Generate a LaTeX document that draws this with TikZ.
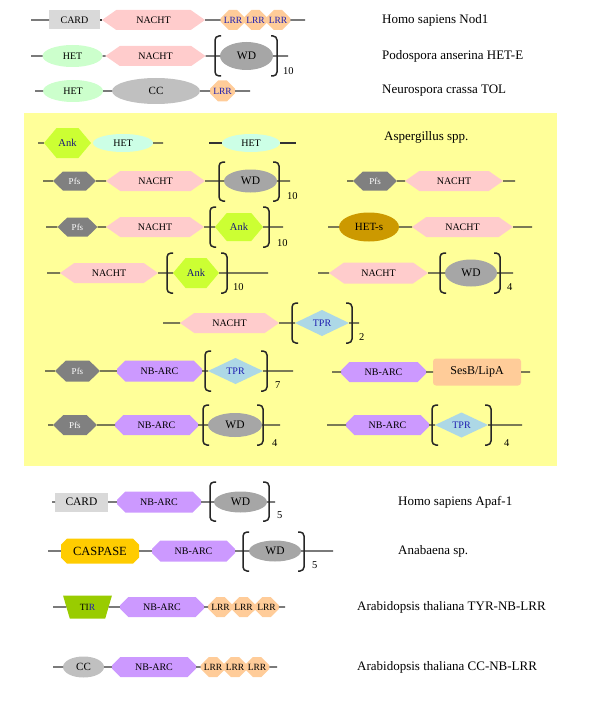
\documentclass[tikz,border=0pt]{standalone}
\usepackage{fontspec}
\setmainfont{Liberation Serif}
\usetikzlibrary{shapes.geometric,shapes.symbols,shapes.misc}

\definecolor{boxc}{HTML}{FFFF99}
\definecolor{nachtc}{HTML}{FFCCCC}
\definecolor{lrrc}{HTML}{FFCC99}
\definecolor{hetc}{HTML}{CCFFCC}
\definecolor{hetbc}{HTML}{CCFFE6}
\definecolor{cardc}{HTML}{D9D9D9}
\definecolor{ccc}{HTML}{C0C0C0}
\definecolor{wdc}{HTML}{A6A6A6}
\definecolor{ankc}{HTML}{CCFF33}
\definecolor{pfsc}{HTML}{808080}
\definecolor{hetsc}{HTML}{CC9900}
\definecolor{tprc}{HTML}{ADD8E6}
\definecolor{nbarcc}{HTML}{CC99FF}
\definecolor{caspc}{HTML}{FFCC00}
\definecolor{tirc}{HTML}{99CC00}
\definecolor{bluetxt}{HTML}{1F1FB0}
\definecolor{linec}{HTML}{333333}

\tikzset{
  dom/.style={inner sep=0pt,outer sep=0pt,font=\fontsize{10}{12}\selectfont},
  nacht/.style={dom,signal,signal to=east and west,signal pointer angle=70,fill=nachtc,minimum width=100pt,minimum height=20pt},
  pfs/.style={dom,signal,signal to=east and west,signal pointer angle=88,fill=pfsc,text=white,minimum width=43pt,minimum height=19pt,font=\fontsize{9}{11}\selectfont},
  ank/.style={dom,signal,signal to=east and west,signal pointer angle=100,fill=ankc,text=bluetxt!70!black,minimum width=47pt,minimum height=30pt,font=\fontsize{10.5}{12}\selectfont},
  lrr/.style={dom,chamfered rectangle,chamfered rectangle xsep=5pt,chamfered rectangle ysep=5pt,fill=lrrc,text=bluetxt,minimum width=22.5pt,minimum height=20pt,font=\fontsize{9.5}{11}\selectfont},
  het/.style={dom,ellipse,fill=hetc,minimum width=60pt,minimum height=22pt},
  wd/.style={dom,ellipse,fill=wdc,minimum width=53pt,minimum height=24pt,font=\fontsize{11.5}{13}\selectfont},
  cc/.style={dom,ellipse,fill=ccc,minimum width=88pt,minimum height=26pt,font=\fontsize{11}{13}\selectfont},
  hets/.style={dom,ellipse,fill=hetsc,minimum width=60pt,minimum height=29pt,font=\fontsize{11}{13}\selectfont},
  tpr/.style={dom,diamond,aspect=2,fill=tprc,text=bluetxt,minimum width=54pt,minimum height=26pt},
  nbarc/.style={dom,chamfered rectangle,chamfered rectangle xsep=5pt,chamfered rectangle ysep=5pt,fill=nbarcc,minimum width=84pt,minimum height=20pt},
  card/.style={dom,rectangle,fill=cardc,minimum width=51pt,minimum height=19pt},
  sesb/.style={dom,rectangle,rounded corners=3pt,fill=lrrc,minimum width=88pt,minimum height=27pt,font=\fontsize{12}{14}\selectfont},
  casp/.style={dom,chamfered rectangle,chamfered rectangle xsep=3pt,chamfered rectangle ysep=3pt,fill=caspc,minimum width=78pt,minimum height=25pt,font=\fontsize{12.5}{14}\selectfont},
  tir/.style={dom,trapezium,trapezium stretches=true,trapezium angle=65,shape border rotate=180,fill=tirc,minimum width=49pt,minimum height=23pt,font=\fontsize{9.5}{11}\selectfont},
  lbl/.style={anchor=west,inner sep=0pt,font=\fontsize{13}{15}\selectfont},
  rep/.style={anchor=west,inner sep=0pt,font=\fontsize{10.5}{12}\selectfont},
  bb/.style={linec,line width=1.3pt},
  brk/.style={black!85,line width=1.5pt,rounded corners=4pt}
}

\begin{document}
\begin{tikzpicture}[x=1pt,y=-1pt]
\useasboundingbox (0,0) rectangle (600,706);
%\draw[step=50,gray,very thin] (0,0) grid (600,706); %background grid

\fill[boxc] (24,113) rectangle (557,466);

% Homo sapiens Nod1
\coordinate (a1) at (31,20);
\coordinate (b1) at (305,20);
\node[card,font=\fontsize{10}{12}\selectfont] (card1) at (74.5,20) {CARD};
\node[nacht,minimum width=103pt] (nacht1) at (153.5,20) {NACHT};
\node[lrr] (lrr1a) at (233,20) {LRR};
\node[lrr] (lrr1b) at (255.5,20) {LRR};
\node[lrr] (lrr1c) at (278,20) {LRR};
\draw[bb] (a1) -- (card1) (nacht1) -- (lrr1a) (lrr1c) -- (b1);
\draw[bb] (card1) -- (nacht1);
\node[lbl] (sp1) at (382,20) {Homo sapiens Nod1};

% Podospora anserina HET-E
\coordinate (a2) at (31,56);
\coordinate (b2) at (288,56);
\node[het] (het2) at (72.5,56) {HET};
\node[nacht] (nacht2) at (155.5,56) {NACHT};
\node[wd,minimum height=28pt] (wd2) at (246.5,56) {WD};
\draw[bb] (a2) -- (het2) -- (nacht2) -- (wd2) -- (b2);
\draw[brk] (221,36) -- (215,36) -- (215,76) -- (221,76);
\draw[brk] (271,36) -- (277,36) -- (277,76) -- (271,76);
\node[rep] (n2) at (283,71) {10};
\node[lbl] (sp2) at (382,56) {Podospora anserina HET-E};

% Neurospora crassa TOL
\coordinate (a3) at (35,91);
\coordinate (b3) at (250,91);
\node[het] (het3) at (73,91) {HET};
\node[cc] (cc3) at (156,91) {CC};
\node[lrr,minimum width=25pt,minimum height=21pt] (lrr3) at (222.5,91) {LRR};
\draw[bb] (a3) -- (het3) -- (cc3) -- (lrr3) -- (b3);
\node[lbl] (sp3) at (382,91) {Neurospora crassa TOL};

% Aspergillus spp.
\node[lbl] (sp4) at (384,137) {Aspergillus spp.};

\coordinate (a4) at (38,143);
\coordinate (b4) at (163,143);
\node[ank] (ank4) at (67.5,143) {Ank};
\node[het,fill=hetbc,minimum height=18pt] (het4) at (123,143) {HET};
\draw[bb] (a4) -- (ank4) (het4) -- (b4);

\coordinate (a5) at (209,143);
\coordinate (b5) at (296,143);
\node[het,fill=hetbc,minimum width=58pt,minimum height=18pt] (het5) at (251,143) {HET};
\draw[bb] (a5) -- (het5) -- (b5);

\coordinate (a6) at (43,181);
\coordinate (b6) at (290,181);
\node[pfs] (pfs6) at (74.5,181) {Pfs};
\node[nacht,minimum width=99pt] (nacht6) at (155.5,181) {NACHT};
\node[wd,minimum height=23pt] (wd6) at (250.5,181) {WD};
\draw[bb] (a6) -- (pfs6) -- (nacht6) -- (wd6) -- (b6);
\draw[brk] (225,162) -- (219,162) -- (219,201) -- (225,201);
\draw[brk] (273,162) -- (279,162) -- (279,201) -- (273,201);
\node[rep] (n6) at (287,196) {10};

\coordinate (a7) at (347,181);
\coordinate (b7) at (515,181);
\node[pfs,minimum width=44pt] (pfs7) at (375,181) {Pfs};
\node[nacht,minimum width=98pt] (nacht7) at (454,181) {NACHT};
\draw[bb] (a7) -- (pfs7) -- (nacht7) -- (b7);

\coordinate (a8) at (46,227);
\coordinate (b8) at (283,227);
\node[pfs,minimum width=40pt] (pfs8) at (77.5,227) {Pfs};
\node[nacht,minimum width=98pt] (nacht8) at (155,227) {NACHT};
\node[ank,minimum width=48pt,minimum height=28pt] (ank8) at (239,227) {Ank};
\draw[bb] (a8) -- (pfs8) -- (nacht8) -- (ank8) -- (b8);
\draw[brk] (216,207) -- (210,207) -- (210,247) -- (216,247);
\draw[brk] (263,207) -- (269,207) -- (269,247) -- (263,247);
\node[rep] (n8) at (277,243) {10};

\coordinate (a9) at (328,227);
\coordinate (b9) at (532,227);
\node[hets] (hets9) at (369,227) {HET-s};
\node[nacht,minimum width=101pt] (nacht9) at (462.5,227) {NACHT};
\draw[bb] (a9) -- (hets9) -- (nacht9) -- (b9);

\coordinate (a10) at (47,273);
\coordinate (b10) at (268,273);
\node[nacht,minimum width=98pt] (nacht10) at (109,273) {NACHT};
\node[ank,minimum width=46pt] (ank10) at (196,273) {Ank};
\draw[bb] (a10) -- (nacht10) -- (ank10) -- (b10);
\draw[brk] (173,253) -- (167,253) -- (167,293) -- (173,293);
\draw[brk] (221,253) -- (227,253) -- (227,293) -- (221,293);
\node[rep] (n10) at (233,287) {10};

\coordinate (a11) at (318,273);
\coordinate (b11) at (513,273);
\node[nacht,minimum width=99pt,minimum height=21pt] (nacht11) at (378.5,273) {NACHT};
\node[wd,minimum width=52pt,minimum height=27pt] (wd11) at (471,273) {WD};
\draw[bb] (a11) -- (nacht11) -- (wd11) -- (b11);
\draw[brk] (446,253) -- (440,253) -- (440,293) -- (446,293);
\draw[brk] (494,253) -- (500,253) -- (500,293) -- (494,293);
\node[rep] (n11) at (507,287) {4};

\coordinate (a12) at (163,323);
\coordinate (b12) at (359,323);
\node[nacht,minimum width=99pt] (nacht12) at (229.5,323) {NACHT};
\node[tpr] (tpr12) at (322,323) {TPR};
\draw[bb] (a12) -- (nacht12) -- (tpr12) -- (b12);
\draw[brk] (298,303) -- (292,303) -- (292,343) -- (298,343);
\draw[brk] (346,303) -- (352,303) -- (352,343) -- (346,343);
\node[rep] (n12) at (359,337) {2};

\coordinate (a13) at (45,371);
\coordinate (b13) at (293,371);
\node[pfs,minimum width=45pt,minimum height=21pt] (pfs13) at (77.5,371) {Pfs};
\node[nbarc,minimum width=85pt,minimum height=21pt] (nbarc13) at (159.5,371) {NB-ARC};
\node[tpr,minimum width=55pt] (tpr13) at (235.5,371) {TPR};
\draw[bb] (a13) -- (pfs13) -- (nbarc13) -- (tpr13) -- (b13);
\draw[brk] (211,351) -- (205,351) -- (205,391) -- (211,391);
\draw[brk] (261,351) -- (267,351) -- (267,391) -- (261,391);
\node[rep] (n13) at (275,385) {7};

\coordinate (a14) at (332,372);
\coordinate (b14) at (530,372);
\node[nbarc,minimum width=85pt] (nbarc14) at (383.5,372) {NB-ARC};
\node[sesb] (sesb14) at (477,372) {SesB/LipA};
\draw[bb] (a14) -- (nbarc14) -- (sesb14) -- (b14);

\coordinate (a15) at (48,425);
\coordinate (b15) at (280,425);
\node[pfs,minimum width=44pt,minimum height=20pt] (pfs15) at (75,425) {Pfs};
\node[nbarc,minimum width=83pt] (nbarc15) at (156.5,425) {NB-ARC};
\node[wd,minimum width=54pt] (wd15) at (235,425) {WD};
\draw[bb] (a15) -- (pfs15) -- (nbarc15) -- (wd15) -- (b15);
\draw[brk] (209,405) -- (203,405) -- (203,445) -- (209,445);
\draw[brk] (257,405) -- (263,405) -- (263,445) -- (257,445);
\node[rep] (n15) at (272,443) {4};

\coordinate (a16) at (327,425);
\coordinate (b16) at (522,425);
\node[nbarc,minimum width=83pt] (nbarc16) at (387.5,425) {NB-ARC};
\node[tpr,minimum width=53pt,minimum height=25pt] (tpr16) at (461.5,425) {TPR};
\draw[bb] (a16) -- (nbarc16) -- (tpr16) -- (b16);
\draw[brk] (438,405) -- (432,405) -- (432,445) -- (438,445);
\draw[brk] (485,405) -- (491,405) -- (491,445) -- (485,445);
\node[rep] (n16) at (504,443) {4};

% Homo sapiens Apaf-1
\coordinate (a17) at (52,502);
\coordinate (b17) at (275,502);
\node[card,minimum width=53pt,font=\fontsize{11.5}{13}\selectfont] (card17) at (81.5,502) {CARD};
\node[nbarc,minimum height=21pt] (nbarc17) at (159,502) {NB-ARC};
\node[wd,minimum height=21pt] (wd17) at (240.5,502) {WD};
\draw[bb] (a17) -- (card17) -- (nbarc17) -- (wd17) -- (b17);
\draw[brk] (216,482) -- (210,482) -- (210,521) -- (216,521);
\draw[brk] (263,482) -- (269,482) -- (269,521) -- (263,521);
\node[rep] (n17) at (277,515) {5};
\node[lbl] (sp17) at (398,502) {Homo sapiens Apaf-1};

% Anabaena sp.
\coordinate (a18) at (48,551);
\coordinate (b18) at (333,551);
\node[casp] (casp18) at (100,551) {CASPASE};
\node[nbarc,minimum width=83pt,minimum height=21pt] (nbarc18) at (193.5,551) {NB-ARC};
\node[wd,minimum width=52pt,minimum height=21pt] (wd18) at (275,551) {WD};
\draw[bb] (a18) -- (casp18) -- (nbarc18) -- (wd18) -- (b18);
\draw[brk] (249,532) -- (243,532) -- (243,571) -- (249,571);
\draw[brk] (298,532) -- (304,532) -- (304,571) -- (298,571);
\node[rep] (n18) at (312,565) {5};
\node[lbl] (sp18) at (398,551) {Anabaena sp.};

% Arabidopsis thaliana TYR-NB-LRR
\coordinate (a19) at (53,607);
\coordinate (b19) at (285,607);
\node[tir] (tir19) at (87.5,607) {TI\textcolor{bluetxt}{R}};
\node[nbarc] (nbarc19) at (162,607) {NB-ARC};
\node[lrr,minimum width=23pt,text=black] (lrr19a) at (220.5,607) {LRR};
\node[lrr,minimum width=23pt,text=black] (lrr19b) at (243.5,607) {LRR};
\node[lrr,minimum width=23pt,text=black] (lrr19c) at (266.5,607) {LRR};
\draw[bb] (a19) -- (tir19) -- (nbarc19) -- (lrr19a) (lrr19c) -- (b19);
\node[lbl] (sp19) at (357,607) {Arabidopsis thaliana TYR-NB-LRR};

% Arabidopsis thaliana CC-NB-LRR
\coordinate (a20) at (53,667);
\coordinate (b20) at (277,667);
\node[cc,minimum width=41pt,minimum height=21pt] (cc20) at (83.5,667) {CC};
\node[nbarc] (nbarc20) at (154,667) {NB-ARC};
\node[lrr,minimum width=22pt,text=black] (lrr20a) at (213,667) {LRR};
\node[lrr,minimum width=22pt,text=black] (lrr20b) at (235,667) {LRR};
\node[lrr,minimum width=22pt,text=black] (lrr20c) at (257,667) {LRR};
\draw[bb] (a20) -- (cc20) -- (nbarc20) -- (lrr20a) (lrr20c) -- (b20);
\node[lbl] (sp20) at (357,667) {Arabidopsis thaliana CC-NB-LRR};
\end{tikzpicture}
\end{document}
